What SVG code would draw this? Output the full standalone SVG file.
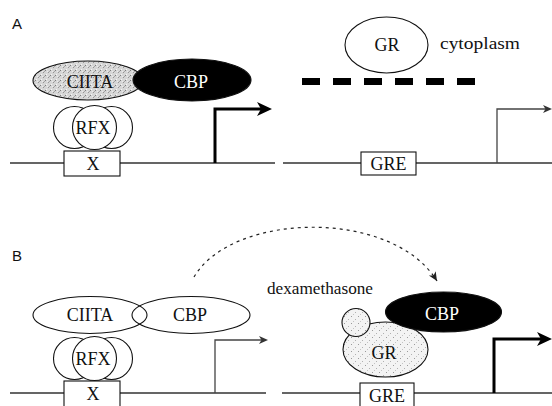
<svg xmlns="http://www.w3.org/2000/svg" width="552" height="406" viewBox="0 0 552 406">
<style>
.lbl{font-family:"Liberation Serif","Times New Roman",serif;font-size:18px;fill:#111;text-anchor:middle}
.wlbl{font-family:"Liberation Serif","Times New Roman",serif;font-size:18px;fill:#fff;text-anchor:middle}
.note{font-family:"Liberation Serif","Times New Roman",serif;font-size:17px;fill:#111}
.panel{font-family:"Liberation Sans",Arial,sans-serif;font-size:15px;fill:#111}
.ol{stroke:#111;stroke-width:1.1}
.dna{stroke:#333;stroke-width:1.4;fill:none}
.thick{stroke:#000;stroke-width:3;fill:none}
.thin{stroke:#444;stroke-width:1.3;fill:none}
</style>
<defs>
<pattern id="stip" width="5" height="5" patternUnits="userSpaceOnUse">
<rect width="5" height="5" fill="#d6d6d6"/>
<rect x="0" y="0" width="1" height="1" fill="#7d7d7d"/>
<rect x="3" y="2" width="1" height="1" fill="#959595"/>
<rect x="1" y="4" width="1" height="1" fill="#f5f5f5"/>
<rect x="4" y="1" width="1" height="1" fill="#a5a5a5"/>
<rect x="2" y="1" width="1" height="1" fill="#ececec"/>
</pattern>
<pattern id="stipL" width="7" height="7" patternUnits="userSpaceOnUse">
<rect width="7" height="7" fill="#f3f3f3"/>
<rect x="1" y="1" width="1" height="1" fill="#9a9a9a"/>
<rect x="5" y="4" width="1" height="1" fill="#b0b0b0"/>
<rect x="3" y="6" width="1" height="1" fill="#c4c4c4"/>
</pattern>
<marker id="hThick" viewBox="0 0 16 16" refX="9" refY="8" markerWidth="16" markerHeight="16" orient="auto" markerUnits="userSpaceOnUse">
<path d="M0,1 L15,8 L0,15 L4,8 Z" fill="#000"/>
</marker>
<marker id="hThin" viewBox="0 0 10 10" refX="6" refY="5" markerWidth="10" markerHeight="10" orient="auto" markerUnits="userSpaceOnUse">
<path d="M0,1 L9,5 L0,9 L2.5,5 Z" fill="#333"/>
</marker>
<marker id="hDot" viewBox="0 0 10 10" refX="9" refY="5" markerWidth="10" markerHeight="10" orient="auto" markerUnits="userSpaceOnUse">
<path d="M0,1 L9,5 L0,9 L2.5,5 Z" fill="#222"/>
</marker>
</defs>
<rect width="552" height="406" fill="#fff"/>

<text class="panel" x="12" y="29">A</text>
<text class="panel" x="12" y="261">B</text>

<g id="dna">
<path class="dna" d="M10,163 H275 M283,163 H552 M10,393 H266 M282,393 H552"/>
</g>

<g id="connectors">
<path class="thick" d="M215,163 V109 H266" marker-end="url(#hThick)"/>
<path class="thin" d="M497,163 V109 H549" marker-end="url(#hThin)"/>
<path class="thin" d="M215,393 V340 H265" marker-end="url(#hThin)"/>
<path class="thick" d="M494,393 V339 H546" marker-end="url(#hThick)"/>
<path d="M194,277 C232,212 392,208 437,281" fill="none" stroke="#222" stroke-width="1.2" stroke-dasharray="3 4" marker-end="url(#hDot)"/>
<path d="M302,81.5 H476" stroke="#000" stroke-width="7" stroke-dasharray="18 13" fill="none"/>
</g>

<g id="A-X"><rect class="ol" x="64" y="151" width="56" height="25" fill="#fff"/><text class="lbl" x="93" y="170">X</text></g>
<g id="A-RFX">
<circle class="ol" cx="74.5" cy="127.5" r="21" fill="#fff"/>
<circle class="ol" cx="111.5" cy="127.5" r="21" fill="#fff"/>
<circle class="ol" cx="94.5" cy="127.5" r="22" fill="#fff"/>
<text class="lbl" x="93" y="134">RFX</text>
</g>
<g id="A-CIITA"><ellipse class="ol" cx="88" cy="80.5" rx="55" ry="19.5" fill="url(#stip)"/><text class="lbl" x="90" y="88">CIITA</text></g>
<g id="A-CBP"><ellipse class="ol" cx="192" cy="80" rx="59" ry="21" fill="#000"/><text class="wlbl" x="191" y="88">CBP</text></g>

<g id="A-GR"><ellipse class="ol" cx="386.5" cy="45" rx="41.5" ry="28" fill="#fff"/><text class="lbl" x="387" y="51">GR</text></g>
<text class="note" x="440" y="49" textLength="80" lengthAdjust="spacingAndGlyphs">cytoplasm</text>
<g id="A-GRE"><rect class="ol" x="361" y="152" width="55" height="23" fill="#fff"/><text class="lbl" x="388.5" y="170">GRE</text></g>

<g id="B-X"><rect class="ol" x="64" y="381" width="56" height="30" fill="#fff"/><text class="lbl" x="93" y="400">X</text></g>
<g id="B-RFX">
<circle class="ol" cx="74.5" cy="358.5" r="21" fill="#fff"/>
<circle class="ol" cx="111.5" cy="358.5" r="21" fill="#fff"/>
<circle class="ol" cx="94.5" cy="358.5" r="22" fill="#fff"/>
<text class="lbl" x="93" y="365">RFX</text>
</g>
<g id="B-CIITA"><ellipse class="ol" cx="90" cy="315" rx="57" ry="18.5" fill="none"/><text class="lbl" x="90" y="321">CIITA</text></g>
<g id="B-CBP"><ellipse class="ol" cx="191" cy="315" rx="59" ry="18.5" fill="none"/><text class="lbl" x="190" y="321">CBP</text></g>

<text class="note" x="267" y="294" textLength="106" lengthAdjust="spacingAndGlyphs">dexamethasone</text>
<g id="B-GR"><ellipse class="ol" cx="385.5" cy="349.5" rx="42.5" ry="27.5" fill="url(#stipL)"/><text class="lbl" x="384" y="359">GR</text></g>
<g id="B-dex"><circle class="ol" cx="356" cy="322.5" r="14" fill="url(#stipL)"/></g>
<g id="B-CBP2"><ellipse class="ol" cx="443.5" cy="312" rx="58" ry="20" fill="#000"/><text class="wlbl" x="442" y="320">CBP</text></g>
<g id="B-GRE"><rect class="ol" x="360" y="383" width="54" height="30" fill="#fff"/><text class="lbl" x="387" y="402">GRE</text></g>
</svg>
